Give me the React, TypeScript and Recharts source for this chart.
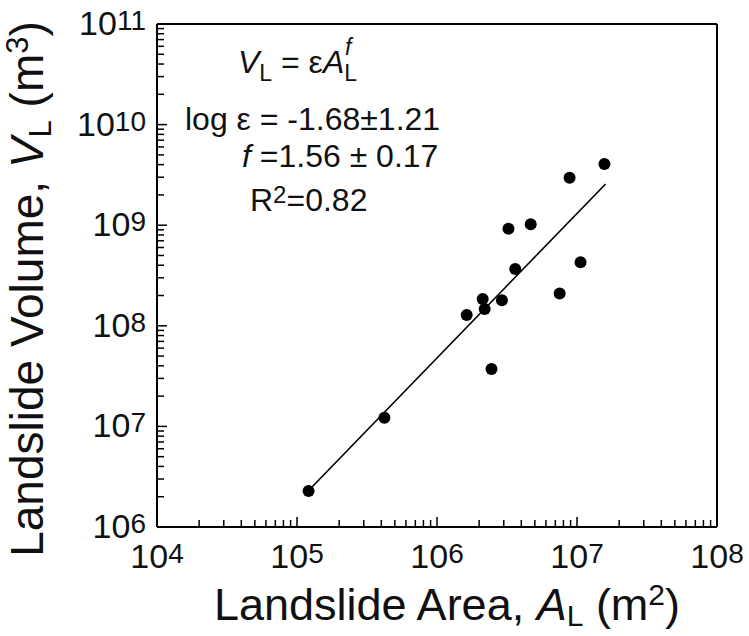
import React from 'react'
import { ScatterChart, Scatter, XAxis, YAxis, ReferenceLine, Label } from 'recharts'

// landslide area (m2) and volume (m3)
const areaM2 = [1.21e5, 4.21e5, 1.63e6, 2.12e6, 2.19e6, 2.45e6, 2.91e6, 3.24e6, 3.62e6, 4.67e6, 7.52e6, 8.85e6, 1.06e7, 1.57e7]
const volumeM3 = [2.28e6, 1.22e7, 1.28e8, 1.85e8, 1.47e8, 3.73e7, 1.79e8, 9.23e8, 3.66e8, 1.02e9, 2.1e8, 2.97e9, 4.28e8, 4.06e9]

// regression line end points
const fitArea = [1.28e5, 1.6e7]
const fitVolume = [2.5e6, 2.57e9]

const xDecades = [1e4, 1e5, 1e6, 1e7, 1e8]
const xExponents = ['4', '5', '6', '7', '8']
const yDecades = [1e6, 1e7, 1e8, 1e9, 1e10, 1e11]
const yExponents = ['6', '7', '8', '9', '10', '11']
const minorSteps = [2, 3, 4, 5, 6, 7, 8, 9]

const FONT = '"Liberation Sans", Arial, Helvetica, sans-serif'

const points = areaM2.map((a, i) => ({ a, v: volumeM3[i] }))
const fit = fitArea.map((a, i) => ({ a, v: fitVolume[i] }))

const withMinor = (decades: number[]) => [
  ...decades,
  ...decades.slice(0, -1).flatMap(d => minorSteps.map(m => d * m)),
].sort((p, q) => p - q)

const xTicks = withMinor(xDecades)
const yTicks = withMinor(yDecades)

function XTick({ x, y, payload }: any) {
  const idx = xDecades.indexOf(payload.value)
  const major = idx >= 0
  return (
    <g>
      <line x1={x} y1={y} x2={x} y2={y - (major ? 10 : 7)} stroke="#000" strokeWidth={1.5} />
      {major && (
        <text x={x} y={y + 41} textAnchor="middle" fontSize={34} fill="#111" fontFamily={FONT}>
          10<tspan dy={-5} fontSize={28}>{xExponents[idx]}</tspan>
        </text>
      )}
    </g>
  )
}

function YTick({ x, y, payload }: any) {
  const idx = yDecades.indexOf(payload.value)
  const major = idx >= 0
  return (
    <g>
      <line x1={x} y1={y} x2={x + (major ? 10 : 7)} y2={y} stroke="#000" strokeWidth={1.5} />
      {major && (
        <text x={x - 11} y={y + 11} textAnchor="end" fontSize={34} fill="#111" fontFamily={FONT}>
          10<tspan dy={-5} fontSize={28}>{yExponents[idx]}</tspan>
        </text>
      )}
    </g>
  )
}

function XTitle() {
  return (
    <text x={447} y={620} textAnchor="middle" fontSize={45} fill="#111" fontFamily={FONT} style={{ whiteSpace: 'pre' }}>
      Landslide Area, <tspan fontStyle="italic">A</tspan>
      <tspan fontSize={30} dy={6}>L</tspan>
      <tspan dy={-6}> (m</tspan>
      <tspan fontSize={30} dy={-15}>2</tspan>
      <tspan dy={15}>)</tspan>
    </text>
  )
}

function YTitle() {
  return (
    <text
      x={43}
      y={289}
      transform="rotate(-90, 43, 289)"
      textAnchor="middle"
      fontSize={46}
      fill="#111"
      fontFamily={FONT}
      style={{ whiteSpace: 'pre' }}
    >
      Landslide Volume, <tspan fontStyle="italic">V</tspan>
      <tspan fontSize={31} dy={8}>L</tspan>
      <tspan dy={-8}> (m</tspan>
      <tspan fontSize={31} dy={-15}>3</tspan>
      <tspan dy={15}>)</tspan>
    </text>
  )
}

const Dot = ({ cx, cy }: any) => <circle cx={cx} cy={cy} r={6} fill="#000" />
const NoDot = () => <g />

export default function App() {
  return (
    <div style={{ position: 'absolute', left: 0, top: 0, width: 749, height: 636, background: '#fff' }}>
      <ScatterChart width={749} height={636} margin={{ top: 24, right: 32, bottom: 0, left: 0 }}>
        <XAxis
          type="number"
          dataKey="a"
          scale="log"
          domain={[1e4, 1e8]}
          allowDataOverflow
          ticks={xTicks}
          interval={0}
          tick={<XTick />}
          tickLine={false}
          tickSize={0}
          tickMargin={0}
          height={109}
          axisLine={{ stroke: '#000', strokeWidth: 2 }}
        >
          <Label content={<XTitle />} />
        </XAxis>
        <YAxis
          type="number"
          dataKey="v"
          scale="log"
          domain={[1e6, 1e11]}
          allowDataOverflow
          ticks={yTicks}
          interval={0}
          tick={<YTick />}
          tickLine={false}
          tickSize={0}
          tickMargin={0}
          width={157}
          axisLine={{ stroke: '#000', strokeWidth: 2 }}
        >
          <Label content={<YTitle />} />
        </YAxis>
        <ReferenceLine y={1e11} stroke="#000" strokeWidth={2} />
        <ReferenceLine x={1e8} stroke="#000" strokeWidth={2} />
        <Scatter
          data={fit}
          line={{ stroke: '#000', strokeWidth: 1.6 }}
          shape={<NoDot />}
          isAnimationActive={false}
        />
        <Scatter data={points} shape={<Dot />} isAnimationActive={false} />
      </ScatterChart>
      <svg
        width={749}
        height={636}
        style={{ position: 'absolute', left: 0, top: 0, pointerEvents: 'none' }}
        fontFamily={FONT}
        fill="#111"
      >
        <text x={238} y={73} fontSize={32} style={{ whiteSpace: 'pre' }}>
          <tspan fontStyle="italic">V</tspan>
          <tspan fontSize={23} dy={8}>L</tspan>
          <tspan dy={-8}> = ε</tspan>
          <tspan fontStyle="italic">A</tspan>
          <tspan fontSize={23} dy={8}>L</tspan>
          <tspan fontSize={23} fontStyle="italic" dx={-12} dy={-26}>f</tspan>
        </text>
        <text x={185} y={130} fontSize={32} style={{ whiteSpace: 'pre' }}>
          log ε = -1.68±1.21
        </text>
        <text x={242} y={167} fontSize={32} style={{ whiteSpace: 'pre' }}>
          <tspan fontStyle="italic">f</tspan> =1.56 ± 0.17
        </text>
        <text x={250} y={211} fontSize={32} style={{ whiteSpace: 'pre' }}>
          R<tspan fontSize={24} dy={-8}>2</tspan>
          <tspan dy={8}>=0.82</tspan>
        </text>
      </svg>
    </div>
  )
}
